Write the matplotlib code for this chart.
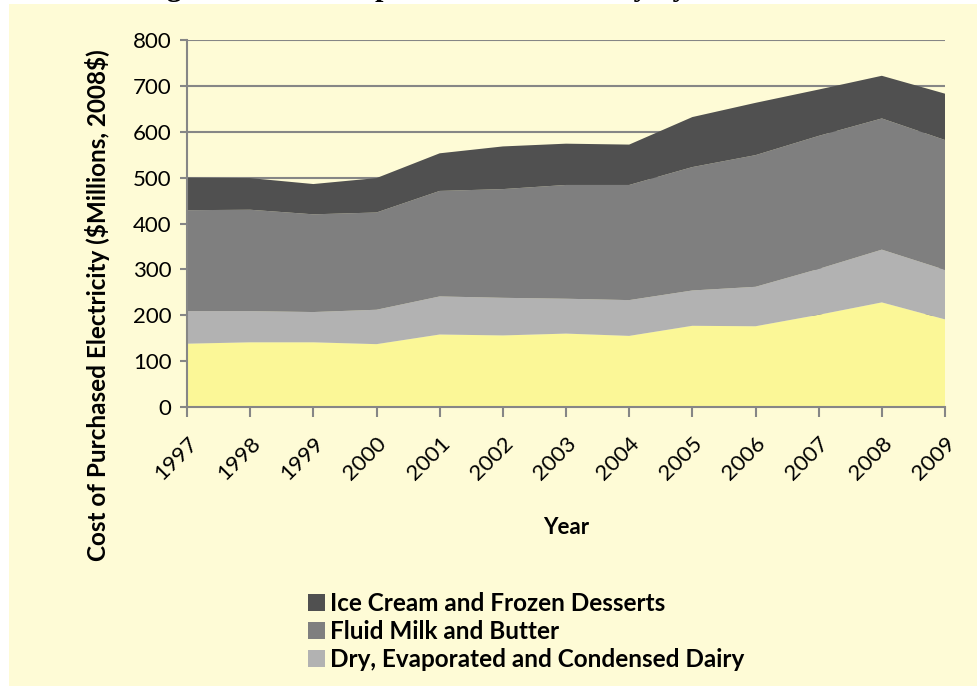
import matplotlib.pyplot as plt
from matplotlib.patches import Rectangle, Patch

years = [str(y) for y in range(1997, 2010)]

# cost of purchased electricity by segment ($ millions, 2008$), bottom to top
cheese = [138, 141, 141, 137, 158, 156, 160, 155, 177, 176, 201, 228, 191]
dry_dairy = [71, 68, 66, 75, 83, 82, 76, 78, 77, 86, 100, 115, 108]
fluid_milk = [220, 221, 213, 212, 230, 237, 248, 251, 269, 287, 290, 286, 283]
ice_cream = [71, 69, 66, 75, 82, 93, 90, 88, 109, 114, 101, 93, 101]

legend_labels = ['Ice Cream and Frozen Desserts', 'Fluid Milk and Butter',
                 'Dry, Evaporated and Condensed Dairy']

bg = '#FEFBD6'
grid_c = '#868686'
colors = ['#FBF797', '#B2B2B2', '#7F7F7F', '#505050']

plt.rcParams['font.family'] = ['Lato', 'DejaVu Sans']
plt.rcParams['text.parse_math'] = False

fig = plt.figure(figsize=(9.77, 6.86), dpi=100)
fig.patch.set_facecolor('white')
# yellow chart area (the page is white round it)
fig.patches.append(Rectangle((9 / 977, 0), 1, 1 - 4 / 686, transform=fig.transFigure,
                             facecolor=bg, edgecolor='none', zorder=-10))

# title is cut off at the top of the picture, only descenders show
fig.text(140 / 977, 1 + 4 / 686, 'Figure 4.1 Cost of purchased Electricity by Sector',
         family='Liberation Serif', fontweight='bold', fontsize=21.6,
         ha='left', va='baseline')

ax = fig.add_axes([187 / 977, 1 - 407 / 686, 758 / 977, 367 / 686])
ax.set_facecolor(bg)

x = list(range(len(years)))
ax.stackplot(x, cheese, dry_dairy, fluid_milk, ice_cream, colors=colors,
             linewidth=0, zorder=3)

ax.set_xlim(0, len(years) - 1)
ax.set_ylim(0, 800)
ax.set_yticks(range(0, 801, 100))
ax.set_xticks(x)
ax.set_xticklabels(years, rotation=45, ha='right', rotation_mode='anchor')

ax.yaxis.grid(True, color=grid_c, linewidth=1.5, zorder=1)
ax.set_axisbelow(True)
for s in ['top', 'right']:
    ax.spines[s].set_visible(False)
for s in ['left', 'bottom']:
    ax.spines[s].set_color(grid_c)
    ax.spines[s].set_linewidth(1.5)
    ax.spines[s].set_zorder(4)
ax.tick_params(axis='y', length=5, width=1.5, color=grid_c, labelsize=16, pad=6)
ax.tick_params(axis='x', length=7, width=1.5, color=grid_c, labelsize=16, pad=12)

ax.set_xlabel('Year', fontsize=16, fontweight='bold', labelpad=24)
ax.set_ylabel('Cost of Purchased Electricity ($Millions, 2008$)', fontsize=17.5,
              fontweight='bold')
ax.yaxis.set_label_coords(-0.102, 0.278)

handles = [Patch(facecolor=colors[3]), Patch(facecolor=colors[2]), Patch(facecolor=colors[1])]
fig.legend(handles, legend_labels, loc='upper left', bbox_to_anchor=(286 / 977, 1 - 570 / 686),
           frameon=False, prop={'weight': 'bold', 'size': 17.5},
           handlelength=0.7, handleheight=0.7, handletextpad=0.2, labelspacing=0.2)

fig.savefig('out.png', dpi=100, facecolor=fig.get_facecolor())
